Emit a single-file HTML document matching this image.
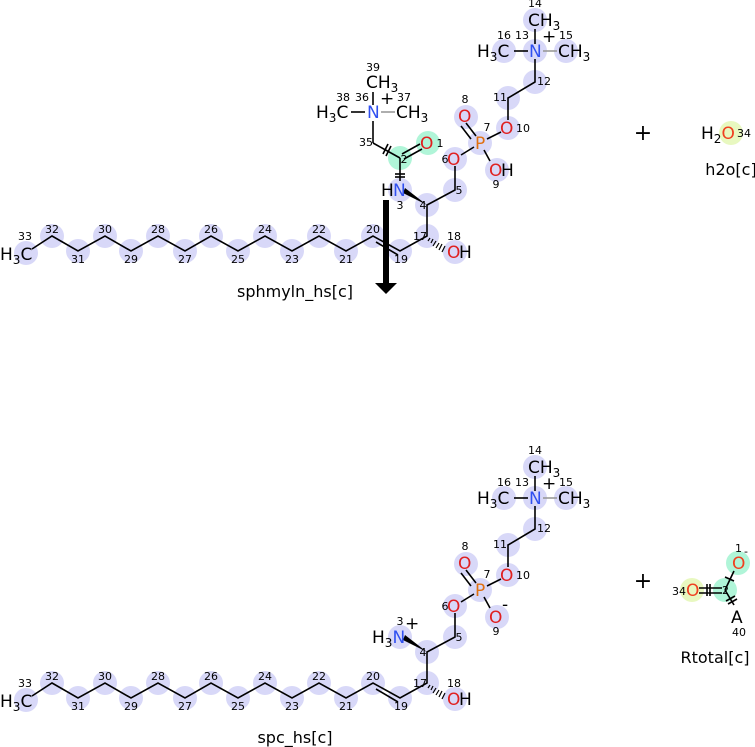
<!DOCTYPE html>
<html><head><meta charset="utf-8"><style>
html,body{margin:0;padding:0;background:#fff;}
svg{display:block;}
text{font-family:"DejaVu Sans","Liberation Sans",sans-serif;}
.a{font-size:17px;}
.n{font-size:11px;fill:#000;}
.b{stroke:#000;stroke-width:1.6;fill:none;}
.g{stroke:#999;stroke-width:1.6;}
.c{fill:#d8d8f8;}
.O{fill:#e02020;}
.N{fill:#3050f0;}
.P{fill:#e07010;}
.L{font-size:16px;}
</style></head><body>
<svg width="755" height="747" viewBox="0 0 755 747" xmlns="http://www.w3.org/2000/svg">

<g>
<g class="c">
<circle cx="26" cy="253" r="12"/><circle cx="52" cy="236" r="12"/><circle cx="78" cy="251" r="12"/>
<circle cx="105" cy="236" r="12"/><circle cx="131" cy="251" r="12"/><circle cx="158" cy="236" r="12"/>
<circle cx="185" cy="251" r="12"/><circle cx="211" cy="236" r="12"/><circle cx="238" cy="251" r="12"/>
<circle cx="265" cy="236" r="12"/><circle cx="292" cy="251" r="12"/><circle cx="319" cy="236" r="12"/>
<circle cx="346" cy="251" r="12"/><circle cx="373" cy="236" r="12"/><circle cx="400" cy="251" r="12"/>
<circle cx="427" cy="236" r="12"/><circle cx="455" cy="252" r="12"/><circle cx="427" cy="205" r="12"/>
<circle cx="400" cy="190" r="12"/><circle cx="455" cy="190" r="12"/><circle cx="455" cy="159" r="12"/>
<circle cx="480" cy="143" r="12"/><circle cx="466" cy="117" r="12"/><circle cx="497" cy="170" r="12"/>
<circle cx="508" cy="128" r="12"/><circle cx="508" cy="98" r="12"/><circle cx="535" cy="82" r="12"/>
<circle cx="535" cy="51" r="12"/><circle cx="535" cy="20" r="12"/><circle cx="566" cy="51" r="12"/>
<circle cx="504" cy="51" r="12"/>
</g>
<circle cx="400" cy="158" r="12" fill="#b0f5d8"/><circle cx="428" cy="143" r="12" fill="#b0f5d8"/>
<polyline class="b" points="32,249 52,236 78,251 105,236 131,251 158,236 185,251 211,236 238,251 265,236 292,251 319,236 346,251 373,236 400,251 427,236 427,205 455,190 455,166"/>
<line class="b" x1="376" y1="242" x2="398" y2="255"/>
<line class="b" x1="461" y1="155" x2="474" y2="147"/>
<line class="b" x1="476" y1="136" x2="466" y2="123"/><line class="b" x1="471" y1="139" x2="461" y2="126"/>
<line class="b" x1="484" y1="150" x2="490" y2="161"/>
<line class="b" x1="487" y1="139" x2="501" y2="132"/>
<polyline class="b" points="508,120 508,98 535,82 535,59"/>
<line class="b" x1="535" y1="44" x2="535" y2="29"/>
<line class="b" x1="528" y1="51" x2="514" y2="51"/>
<line class="g" x1="543" y1="51" x2="557" y2="51"/>
<polygon points="427,205 405,188 403,193" fill="#000"/>
<g stroke="#000" stroke-width="1.2">
<line x1="430" y1="238" x2="428" y2="241"/><line x1="433" y1="239" x2="431" y2="243"/><line x1="436" y1="241" x2="433" y2="246"/><line x1="439" y1="243" x2="436" y2="248"/><line x1="442" y1="244" x2="439" y2="250"/><line x1="445" y1="246" x2="442" y2="252"/>
</g>
<line class="b" x1="400" y1="181" x2="400" y2="158"/>
<line class="b" x1="395" y1="174" x2="405" y2="174"/><line class="b" x1="395" y1="177" x2="405" y2="177"/>
<line class="b" x1="400" y1="158" x2="373" y2="143"/>
<line class="b" x1="383" y1="154" x2="388" y2="144"/><line class="b" x1="386" y1="156" x2="391" y2="146"/>
<line class="b" x1="402" y1="154" x2="420" y2="144"/><line class="b" x1="404" y1="159" x2="422" y2="149"/>
<line class="b" x1="373" y1="143" x2="373" y2="121"/>
<line class="b" x1="373" y1="105" x2="373" y2="92"/>
<line class="b" x1="365" y1="112" x2="351" y2="112"/>
<line class="g" x1="381" y1="112" x2="395" y2="112"/>
<text class="a" x="0" y="260">H<tspan font-size="12" dy="4">3</tspan><tspan dy="-4">C</tspan></text>
<text class="a O" x="447" y="258">O</text><text class="a" x="459" y="258">H</text>
<text class="a" x="381" y="196">H</text><text class="a N" x="393" y="196">N</text>
<text class="a O" x="447" y="165">O</text>
<text class="a P" x="475" y="149">P</text>
<text class="a O" x="458" y="122">O</text>
<text class="a O" x="489" y="176">O</text><text class="a" x="501" y="176">H</text>
<text class="a O" x="500" y="134">O</text>
<text class="a N" x="529" y="57">N</text><text class="a" x="542" y="42" font-size="15">+</text>
<text class="a" x="528" y="26">CH<tspan font-size="12" dy="4">3</tspan></text>
<text class="a" x="558" y="57">CH<tspan font-size="12" dy="4">3</tspan></text>
<text class="a" x="477" y="57">H<tspan font-size="12" dy="4">3</tspan><tspan dy="-4">C</tspan></text>
<text class="a O" x="420" y="149">O</text>
<text class="a N" x="367" y="118">N</text><text class="a" x="380" y="104" font-size="15">+</text>
<text class="a" x="366" y="88">CH<tspan font-size="12" dy="4">3</tspan></text>
<text class="a" x="396" y="118">CH<tspan font-size="12" dy="4">3</tspan></text>
<text class="a" x="316" y="118">H<tspan font-size="12" dy="4">3</tspan><tspan dy="-4">C</tspan></text>
<g class="n" text-anchor="middle">
<text x="25" y="240">33</text><text x="52" y="233">32</text><text x="78" y="263">31</text>
<text x="105" y="233">30</text><text x="131" y="263">29</text><text x="158" y="233">28</text>
<text x="185" y="263">27</text><text x="211" y="233">26</text><text x="238" y="263">25</text>
<text x="265" y="233">24</text><text x="292" y="263">23</text><text x="319" y="233">22</text>
<text x="346" y="263">21</text><text x="373" y="233">20</text><text x="401" y="263">19</text>
<text x="420" y="240">17</text><text x="454" y="240">18</text><text x="423" y="209">4</text>
<text x="400" y="209">3</text><text x="459" y="194">5</text><text x="445" y="163">6</text>
<text x="487" y="131">7</text><text x="465" y="103">8</text><text x="496" y="188">9</text>
<text x="523" y="132">10</text><text x="500" y="101">11</text><text x="544" y="85">12</text>
<text x="522" y="39">13</text><text x="535" y="7">14</text><text x="566" y="39">15</text>
<text x="504" y="39">16</text><text x="404" y="163">2</text><text x="440" y="147">1</text>
<text x="366" y="146">35</text><text x="362" y="101">36</text><text x="404" y="101">37</text>
<text x="343" y="101">38</text><text x="373" y="71">39</text>
</g>
</g>

<rect x="383" y="200" width="6" height="84" fill="#000"/>
<polygon points="375,283 397,283 386,294" fill="#000"/>

<text class="L" x="295" y="297" text-anchor="middle">sphmyln_hs[c]</text>
<text x="643" y="140" font-size="22" text-anchor="middle">+</text>
<circle cx="731" cy="133" r="12" fill="#e8f8c0"/>
<text class="a" x="701" y="139">H<tspan font-size="12" dy="4">2</tspan><tspan dy="-4" fill="#f04020">O</tspan></text>
<text class="n" x="737" y="137">34</text>
<text class="L" x="731" y="175" text-anchor="middle">h2o[c]</text>

<g transform="translate(0,447)">
<g class="c">
<circle cx="26" cy="253" r="12"/><circle cx="52" cy="236" r="12"/><circle cx="78" cy="251" r="12"/>
<circle cx="105" cy="236" r="12"/><circle cx="131" cy="251" r="12"/><circle cx="158" cy="236" r="12"/>
<circle cx="185" cy="251" r="12"/><circle cx="211" cy="236" r="12"/><circle cx="238" cy="251" r="12"/>
<circle cx="265" cy="236" r="12"/><circle cx="292" cy="251" r="12"/><circle cx="319" cy="236" r="12"/>
<circle cx="346" cy="251" r="12"/><circle cx="373" cy="236" r="12"/><circle cx="400" cy="251" r="12"/>
<circle cx="427" cy="236" r="12"/><circle cx="455" cy="252" r="12"/><circle cx="427" cy="205" r="12"/>
<circle cx="400" cy="190" r="12"/><circle cx="455" cy="190" r="12"/><circle cx="455" cy="159" r="12"/>
<circle cx="480" cy="143" r="12"/><circle cx="466" cy="117" r="12"/><circle cx="497" cy="170" r="12"/>
<circle cx="508" cy="128" r="12"/><circle cx="508" cy="98" r="12"/><circle cx="535" cy="82" r="12"/>
<circle cx="535" cy="51" r="12"/><circle cx="535" cy="20" r="12"/><circle cx="566" cy="51" r="12"/>
<circle cx="504" cy="51" r="12"/>
</g>
<polyline class="b" points="32,249 52,236 78,251 105,236 131,251 158,236 185,251 211,236 238,251 265,236 292,251 319,236 346,251 373,236 400,251 427,236 427,205 455,190 455,166"/>
<line class="b" x1="376" y1="242" x2="398" y2="255"/>
<line class="b" x1="461" y1="155" x2="474" y2="147"/>
<line class="b" x1="476" y1="136" x2="466" y2="123"/><line class="b" x1="471" y1="139" x2="461" y2="126"/>
<line class="b" x1="484" y1="150" x2="490" y2="161"/>
<line class="b" x1="487" y1="139" x2="501" y2="132"/>
<polyline class="b" points="508,120 508,98 535,82 535,59"/>
<line class="b" x1="535" y1="44" x2="535" y2="29"/>
<line class="b" x1="528" y1="51" x2="514" y2="51"/>
<line class="g" x1="543" y1="51" x2="557" y2="51"/>
<polygon points="427,205 405,188 403,193" fill="#000"/>
<g stroke="#000" stroke-width="1.2">
<line x1="430" y1="238" x2="428" y2="241"/><line x1="433" y1="239" x2="431" y2="243"/><line x1="436" y1="241" x2="433" y2="246"/><line x1="439" y1="243" x2="436" y2="248"/><line x1="442" y1="244" x2="439" y2="250"/><line x1="445" y1="246" x2="442" y2="252"/>
</g>
<text class="a" x="0" y="260">H<tspan font-size="12" dy="4">3</tspan><tspan dy="-4">C</tspan></text>
<text class="a O" x="447" y="258">O</text><text class="a" x="459" y="258">H</text>
<text class="a" x="372" y="196">H<tspan font-size="12" dy="4">3</tspan><tspan dy="-4" fill="#3050f0">N</tspan></text>
<text class="a" x="405" y="182" font-size="15">+</text>
<text class="a O" x="447" y="165">O</text>
<text class="a P" x="475" y="149">P</text>
<text class="a O" x="458" y="122">O</text>
<text class="a O" x="489" y="176">O</text><text class="a" x="502" y="163" font-size="12">-</text>
<text class="a O" x="500" y="134">O</text>
<text class="a N" x="529" y="57">N</text><text class="a" x="542" y="42" font-size="15">+</text>
<text class="a" x="528" y="26">CH<tspan font-size="12" dy="4">3</tspan></text>
<text class="a" x="558" y="57">CH<tspan font-size="12" dy="4">3</tspan></text>
<text class="a" x="477" y="57">H<tspan font-size="12" dy="4">3</tspan><tspan dy="-4">C</tspan></text>
<g class="n" text-anchor="middle">
<text x="25" y="240">33</text><text x="52" y="233">32</text><text x="78" y="263">31</text>
<text x="105" y="233">30</text><text x="131" y="263">29</text><text x="158" y="233">28</text>
<text x="185" y="263">27</text><text x="211" y="233">26</text><text x="238" y="263">25</text>
<text x="265" y="233">24</text><text x="292" y="263">23</text><text x="319" y="233">22</text>
<text x="346" y="263">21</text><text x="373" y="233">20</text><text x="401" y="263">19</text>
<text x="420" y="240">17</text><text x="454" y="240">18</text><text x="423" y="209">4</text>
<text x="400" y="178">3</text><text x="459" y="194">5</text><text x="445" y="163">6</text>
<text x="487" y="131">7</text><text x="465" y="103">8</text><text x="496" y="188">9</text>
<text x="523" y="132">10</text><text x="500" y="101">11</text><text x="544" y="85">12</text>
<text x="522" y="39">13</text><text x="535" y="7">14</text><text x="566" y="39">15</text>
<text x="504" y="39">16</text>
</g>
</g>

<text class="L" x="295" y="743" text-anchor="middle">spc_hs[c]</text>
<text x="643" y="588" font-size="22" text-anchor="middle">+</text>
<circle cx="692" cy="590" r="12" fill="#e8f8c0"/>
<circle cx="725" cy="590" r="12" fill="#b0f5d8"/>
<circle cx="738" cy="563" r="12" fill="#b0f5d8"/>
<line class="b" x1="699" y1="588" x2="722" y2="588"/><line class="b" x1="699" y1="593" x2="722" y2="593"/>
<line class="b" x1="707" y1="584" x2="707" y2="596"/><line class="b" x1="710" y1="584" x2="710" y2="596"/>
<line class="b" x1="725" y1="590" x2="734" y2="571"/>
<line class="b" x1="725" y1="577" x2="734" y2="581"/>
<line class="b" x1="725" y1="590" x2="734" y2="605"/>
<line class="b" x1="726" y1="601" x2="735" y2="596"/><line class="b" x1="728" y1="604" x2="737" y2="599"/>
<text class="a" x="686" y="596" fill="#f04020">O</text>
<text class="n" x="672" y="595">34</text>
<text class="n" x="722" y="594" fill="#555">2</text>
<text class="a" x="732" y="569" fill="#f04020">O</text>
<text class="n" x="735" y="552">1</text><text class="n" x="744" y="555">-</text>
<text class="a" x="731" y="623">A</text>
<text class="n" x="739" y="636" text-anchor="middle">40</text>
<text class="L" x="715" y="663" text-anchor="middle">Rtotal[c]</text>
</svg>
</body></html>
